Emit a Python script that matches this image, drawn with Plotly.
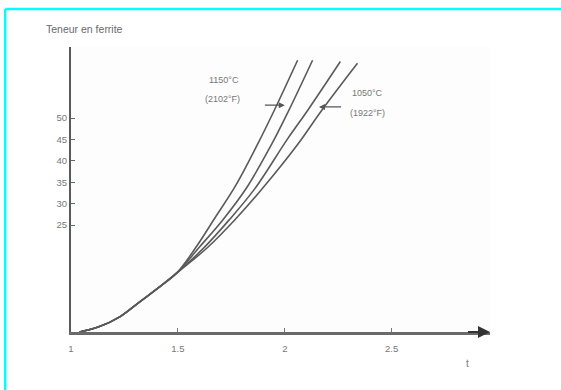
import plotly.graph_objects as go

# Common lower branch (all curves merge here)
common_x = [1.04, 1.13, 1.23, 1.32, 1.416, 1.495]
common_y = [0.0, 1.2, 3.6, 7.0, 10.6, 13.8]

# Upper branches
a_x = [1.59, 1.67, 1.77, 1.87, 1.95, 2.06]
a_y = [20.2, 26.4, 34.2, 43.6, 51.7, 63.5]
b_x = [1.60, 1.71, 1.82, 1.94, 2.02, 2.13]
b_y = [19.8, 26.2, 33.6, 44.0, 51.9, 63.5]
c_x = [1.62, 1.74, 1.86, 2.01, 2.11, 2.26]
c_y = [19.6, 26.2, 33.5, 44.9, 52.0, 63.2]
d_x = [1.64, 1.77, 1.90, 2.06, 2.17, 2.34]
d_y = [19.8, 26.4, 33.8, 43.8, 51.6, 62.8]

x_ticks = [1, 1.5, 2, 2.5]
x_tick_text = ["1", "1.5", "2", "2.5"]
y_ticks = [25, 30, 35, 40, 45, 50]

line_col = "#5a5a5a"
text_col = "#777777"
font = "Liberation Sans"

fig = go.Figure()
for bx, by in [(a_x, a_y), (b_x, b_y), (c_x, c_y), (d_x, d_y)]:
    fig.add_trace(go.Scatter(
        x=common_x + bx, y=common_y + by, mode="lines",
        line=dict(color=line_col, width=1.6, shape="spline", smoothing=1.0),
        showlegend=False, hoverinfo="skip"))

fig.update_layout(
    width=561, height=390,
    margin=dict(l=71, r=71, t=47, b=58),
    paper_bgcolor="white", plot_bgcolor="#fdfdfd",
    font=dict(family=font, size=9, color=text_col),
    xaxis=dict(range=[1, 2.96], showgrid=False, zeroline=False,
               showline=True, linecolor="#6a6a6a", linewidth=2.5,
               tickvals=x_ticks, ticktext=x_tick_text,
               ticks="inside", ticklen=4, tickcolor="#777",
               ticklabelstandoff=6,
               tickfont=dict(size=9.5, color=text_col)),
    yaxis=dict(range=[0, 66.6], showgrid=False, zeroline=False,
               showline=True, linecolor="#5a5a5a", linewidth=2,
               tickvals=y_ticks, ticks="inside", ticklen=4, tickcolor="#666",
               tickfont=dict(size=9.5, color=text_col)),
)

# x-axis arrowhead
fig.add_annotation(x=2.96, y=0, ax=2.85, ay=0, xref="x", yref="y",
                   axref="x", ayref="y", showarrow=True, arrowhead=2,
                   arrowsize=1.2, arrowwidth=2, arrowcolor="#333", text="")
# axis labels
fig.add_annotation(x=2.855, y=-0.085, xref="x", yref="paper", text="t",
                   showarrow=False, yanchor="top",
                   font=dict(size=10, color=text_col))
fig.add_annotation(x=1.065, y=1.035, xref="x", yref="paper", yanchor="bottom",
                   text="Teneur en ferrite", showarrow=False,
                   font=dict(size=10.5, color="#6a6a6a"))

# temperature labels
fig.add_annotation(x=1.715, y=58.9, text="1150°C", showarrow=False,
                   font=dict(size=9, color=text_col))
fig.add_annotation(x=1.71, y=54.4, text="(2102°F)", showarrow=False,
                   font=dict(size=9, color=text_col))
fig.add_annotation(x=2.385, y=55.8, text="1050°C", showarrow=False,
                   font=dict(size=9, color=text_col))
fig.add_annotation(x=2.385, y=51.2, text="(1922°F)", showarrow=False,
                   font=dict(size=9, color=text_col))
fig.add_annotation(x=2.0, y=53.0, ax=1.90, ay=53.0, xref="x", yref="y",
                   axref="x", ayref="y", showarrow=True, arrowhead=2,
                   arrowsize=1, arrowwidth=1.2, arrowcolor="#555", text="")
fig.add_annotation(x=2.16, y=52.6, ax=2.27, ay=52.6, xref="x", yref="y",
                   axref="x", ayref="y", showarrow=True, arrowhead=2,
                   arrowsize=1, arrowwidth=1.2, arrowcolor="#555", text="")

# cyan frame (top and left edges)
fig.add_shape(type="line", xref="paper", yref="paper",
              x0=-0.157, x1=1.2, y0=1.133, y1=1.133,
              line=dict(color="#00ffff", width=2.5))
fig.add_shape(type="line", xref="paper", yref="paper",
              x0=-0.157, x1=-0.157, y0=1.133, y1=-0.3,
              line=dict(color="#00ffff", width=2.5))

fig.write_html("out.html")
